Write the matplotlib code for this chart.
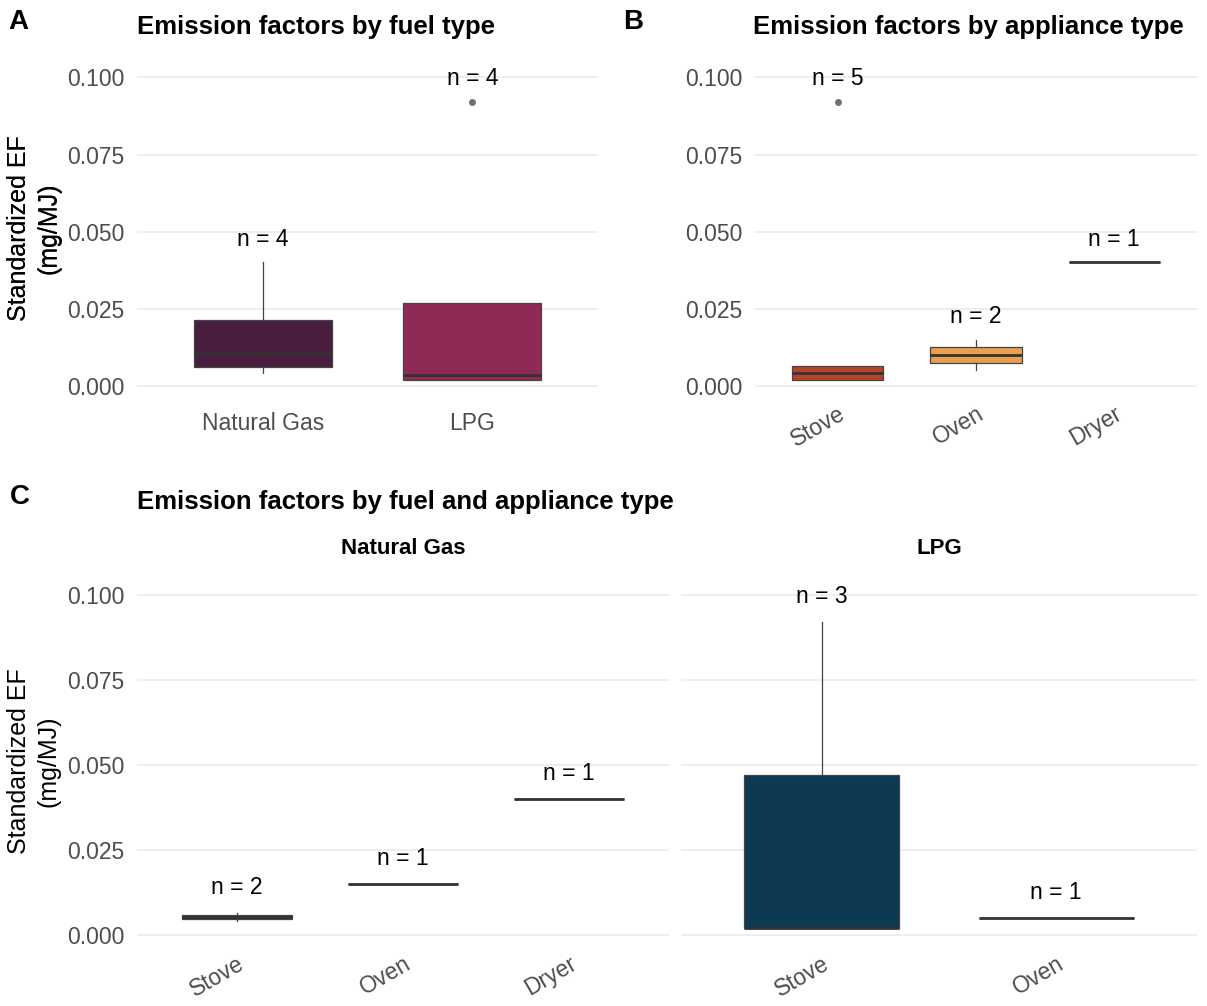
import matplotlib.pyplot as plt

plt.rcParams['font.family'] = ['Liberation Sans', 'DejaVu Sans']

# standardized emission factors (mg/MJ), one list per fuel x appliance
ng_stove = [0.0042, 0.0065]
ng_oven = [0.015]
ng_dryer = [0.040]
lpg_stove = [0.002, 0.002, 0.092]
lpg_oven = [0.005]

fuels = ["Natural Gas", "LPG"]
appliances = ["Stove", "Oven", "Dryer"]
fuel_colors = ["#4a1e3e", "#8e2a55"]
appliance_colors = ["#b5432a", "#e8a04f", "#f3d9a4"]
lpg_color = "#0d3a52"
ng_color = "#6b2a4f"

yticks = [0.0, 0.025, 0.05, 0.075, 0.1]
ylabel = "Standardized EF\n(mg/MJ)"

W, H = 1207, 1006
fig = plt.figure(figsize=(W / 100, H / 100), dpi=100)


def px_axes(x0, y0, x1, y1):
    return fig.add_axes([x0 / W, 1 - y1 / H, (x1 - x0) / W, (y1 - y0) / H])


def draw_box(ax, groups, colors, labels, rot=0, show_y=True):
    pos = list(range(1, len(groups) + 1))
    bp = ax.boxplot(groups, positions=pos, widths=0.66, patch_artist=True,
                    showcaps=False, whis=1.5,
                    medianprops=dict(color="#333333", linewidth=2.0),
                    boxprops=dict(edgecolor="#444444", linewidth=0.9),
                    whiskerprops=dict(color="#444444", linewidth=0.9),
                    flierprops=dict(marker="o", markerfacecolor="#707070",
                                    markeredgecolor="none", markersize=5))
    for patch, c in zip(bp["boxes"], colors):
        patch.set_facecolor(c)
    for p, g in zip(pos, groups):
        ax.text(p, max(g) + 0.0075, f"n = {len(g)}", ha="center", va="center",
                fontsize=16.5)
    ax.set_xlim(0.4, len(groups) + 0.6)
    ax.set_ylim(-0.003, 0.105)
    ax.set_yticks(yticks)
    if show_y:
        ax.set_yticklabels([f"{v:.3f}" for v in yticks])
        ax.set_ylabel(ylabel, fontsize=18, linespacing=1.3)
        bb = ax.get_position()
        ax.yaxis.set_label_coords((61 / W - bb.x0) / bb.width, 0.5)
    else:
        ax.set_yticklabels([])
    ax.set_xticks(pos)
    if rot:
        ax.set_xticklabels(labels, rotation=rot, ha="right",
                           rotation_mode="anchor")
        xpad = 5
    else:
        ax.set_xticklabels(labels)
        xpad = 12
    ax.tick_params(axis="y", length=0, labelsize=16.5, labelcolor="#4d4d4d",
                   pad=9)
    ax.tick_params(axis="x", length=0, labelsize=16.5, labelcolor="#4d4d4d",
                   pad=xpad)
    ax.grid(axis="y", color="#ebebeb", linewidth=1.2)
    ax.set_axisbelow(True)
    for s in ax.spines.values():
        s.set_visible(False)


# A: by fuel
axA = px_axes(137, 62, 598, 395)
draw_box(axA, [ng_stove + ng_oven + ng_dryer, lpg_stove + lpg_oven],
         fuel_colors, fuels)

# B: by appliance
axB = px_axes(755, 62, 1197, 395)
draw_box(axB, [ng_stove + lpg_stove, ng_oven + lpg_oven, ng_dryer],
         appliance_colors, appliances, rot=30)

# C: by fuel and appliance, one facet per fuel
axC1 = px_axes(137, 578, 669, 945)
draw_box(axC1, [ng_stove, ng_oven, ng_dryer], [ng_color] * 3, appliances, rot=30)
axC2 = px_axes(681, 578, 1197, 945)
draw_box(axC2, [lpg_stove, lpg_oven], [lpg_color] * 2, appliances[:2], rot=30,
         show_y=False)

fig.text(137 / W, 1 - 502 / H, "Emission factors by fuel and appliance type",
         fontsize=18.5, fontweight="bold", va="center")
fig.text(403 / W, 1 - 548 / H, fuels[0], fontsize=16, fontweight="bold",
         ha="center", va="center")
fig.text(939 / W, 1 - 548 / H, fuels[1], fontsize=16, fontweight="bold",
         ha="center", va="center")

fig.text(137 / W, 1 - 27 / H, "Emission factors by fuel type",
         fontsize=18.5, fontweight="bold", va="center")
fig.text(753 / W, 1 - 27 / H, "Emission factors by appliance type",
         fontsize=18.5, fontweight="bold", va="center")

for lbl, x, y in [("A", 8, 22), ("B", 623, 22), ("C", 10, 497)]:
    fig.text(x / W, 1 - y / H, lbl, fontsize=20, fontweight="bold", va="center")

fig.savefig("out.png", dpi=100, facecolor="white")
